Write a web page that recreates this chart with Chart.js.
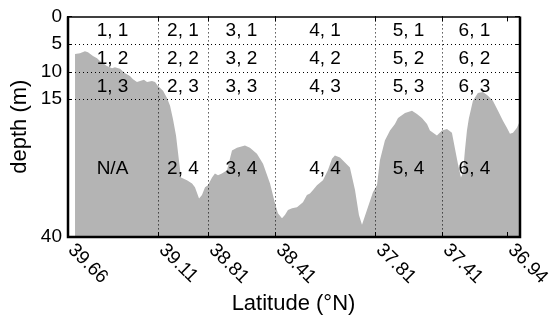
<!DOCTYPE html>
<html>
<head>
<meta charset="utf-8">
<script src="https://cdn.jsdelivr.net/npm/chart.js@4.4.0/dist/chart.umd.min.js"></script>
<style>
  html, body { margin: 0; padding: 0; background: #fff; }
  #wrap { width: 556px; height: 320px; }
</style>
</head>
<body>
<div id="wrap"><canvas id="chart"></canvas></div>
<script>
// Latitude tick labels and where they sit along the section (km)
var latLabels = ['39.66', '39.11', '38.81', '38.41', '37.81', '37.41', '36.94'];
var latPosKm = [0, 62.4, 96.7, 142.7, 211.3, 257.3, 301.8];
var sectionEndKm = 310.8;

// Depth ticks (m)
var depthTicks = [0, 5, 10, 15, 40];

// Bottom profile along the section
var distKm = [5.5, 8.9, 12.3, 14.4, 17.8, 20.6, 22.6, 27.4, 30.9, 32.9,
  36.4, 39.8, 43.2, 45.3, 48.0, 50.1, 52.8, 54.9, 58.3, 60.4,
  62.4, 65.9, 68.6, 70.7, 72.7, 74.8, 76.8, 78.2, 82.3, 85.8,
  87.8, 90.6, 92.6, 94.7, 96.7, 99.5, 101.5, 103.6, 106.3, 109.8,
  113.2, 116.6, 122.1, 125.5, 130.3, 134.5, 139.3, 142.7, 144.7, 147.5,
  149.5, 151.6, 154.4, 157.8, 161.9, 164.6, 166.7, 168.8, 171.5, 175.6,
  179.0, 181.8, 183.8, 187.3, 190.7, 194.1, 197.6, 200.3, 202.4, 205.8,
  209.9, 212.7, 214.7, 218.1, 221.6, 225.0, 227.1, 231.9, 236.7, 240.1,
  243.5, 247.0, 249.0, 253.8, 257.3, 260.7, 264.1, 266.2, 268.2, 270.3,
  271.7, 273.0, 274.4, 275.7, 278.5, 281.9, 285.4, 288.8, 292.2, 295.7,
  299.1, 301.8, 303.9, 306.0, 308.7, 310.8];
var depthM = [6.8, 6.7, 6.3, 6.5, 7.2, 7.6, 8.1, 9.0, 9.4, 9.2,
  9.5, 10.3, 10.8, 11.4, 11.9, 11.7, 11.5, 11.9, 11.7, 11.9,
  12.6, 13.5, 14.8, 16.2, 18.6, 21.6, 26.1, 29.2, 29.7, 30.3,
  31.0, 33.0, 32.4, 31.0, 30.6, 29.2, 28.5, 28.8, 28.5, 27.9,
  24.3, 23.8, 23.4, 23.8, 24.9, 26.7, 30.3, 33.9, 35.7, 36.6,
  36.0, 35.1, 34.8, 34.6, 33.7, 32.4, 32.1, 31.5, 30.6, 29.7,
  27.9, 25.8, 25.2, 25.6, 26.5, 27.4, 31.5, 36.0, 37.8, 35.1,
  31.9, 30.6, 26.1, 22.5, 20.7, 19.5, 18.4, 17.5, 17.1, 17.7,
  18.4, 19.5, 20.7, 21.6, 20.7, 20.4, 21.1, 24.0, 26.7, 29.2,
  28.3, 24.3, 20.7, 18.5, 15.3, 13.9, 13.7, 14.4, 15.3, 17.1,
  18.9, 20.2, 21.3, 21.1, 20.2, 18.9];

// Box labels: one row per depth band, one column per latitude interval
var rowDepths = [2.5, 7.5, 12.5, 27.5];
var boxLabels = [
  ['1, 1', '2, 1', '3, 1', '4, 1', '5, 1', '6, 1'],
  ['1, 2', '2, 2', '3, 2', '4, 2', '5, 2', '6, 2'],
  ['1, 3', '2, 3', '3, 3', '4, 3', '5, 3', '6, 3'],
  ['N/A', '2, 4', '3, 4', '4, 4', '5, 4', '6, 4']
];

var FONT = '"Liberation Sans", Arial, Helvetica, sans-serif';

var profile = [];
for (var i = 0; i < distKm.length; i++) {
  profile.push({ x: distKm[i], y: depthM[i] });
}

// Grid, frame, box labels and slanted latitude labels on top of the fill
var overlay = {
  id: 'overlay',
  afterDatasetsDraw: function(chart) {
    var ctx = chart.ctx;
    var a = chart.chartArea;
    var xs = chart.scales.x, ys = chart.scales.y;
    ctx.save();

    // dotted grid
    ctx.strokeStyle = '#000';
    ctx.lineWidth = 1;
    ctx.setLineDash([1, 3]);
    depthTicks.forEach(function(d) {
      if (d <= ys.min || d >= ys.max) return;
      var y = Math.round(ys.getPixelForValue(d)) + 0.5;
      ctx.beginPath(); ctx.moveTo(a.left, y); ctx.lineTo(a.right, y); ctx.stroke();
    });
    latPosKm.forEach(function(p, i) {
      if (i === 0 || i === latPosKm.length - 1) return;
      var x = Math.round(xs.getPixelForValue(p)) + 0.5;
      ctx.beginPath(); ctx.moveTo(x, a.top); ctx.lineTo(x, a.bottom); ctx.stroke();
    });
    ctx.setLineDash([]);

    // inward tick marks
    var tl = 5;
    ctx.beginPath();
    depthTicks.forEach(function(d) {
      var y = Math.round(ys.getPixelForValue(d)) + 0.5;
      ctx.moveTo(a.left, y); ctx.lineTo(a.left + tl, y);
      ctx.moveTo(a.right, y); ctx.lineTo(a.right - tl, y);
    });
    latPosKm.forEach(function(p) {
      var x = Math.round(xs.getPixelForValue(p)) + 0.5;
      ctx.moveTo(x, a.bottom); ctx.lineTo(x, a.bottom - tl);
      ctx.moveTo(x, a.top); ctx.lineTo(x, a.top + tl);
    });
    ctx.stroke();

    // frame
    ctx.lineWidth = 1.5;
    ctx.beginPath(); ctx.moveTo(a.left, a.top + 0.5); ctx.lineTo(a.right, a.top + 0.5); ctx.stroke();
    ctx.lineWidth = 2.5;
    ctx.beginPath();
    ctx.moveTo(a.left + 1, a.top);
    ctx.lineTo(a.left + 1, a.bottom);
    ctx.lineTo(a.right, a.bottom);
    ctx.lineTo(a.right, a.top);
    ctx.stroke();

    // box labels, centred in each interval
    ctx.fillStyle = '#000';
    ctx.font = '19px ' + FONT;
    ctx.textAlign = 'center';
    ctx.textBaseline = 'middle';
    boxLabels.forEach(function(row, r) {
      var y = ys.getPixelForValue(rowDepths[r]) + 1;
      row.forEach(function(txt, c) {
        var mid = (latPosKm[c] + latPosKm[c + 1]) / 2;
        ctx.fillText(txt, xs.getPixelForValue(mid), y);
      });
    });

    // slanted latitude labels
    ctx.font = '19px ' + FONT;
    ctx.textAlign = 'left';
    ctx.textBaseline = 'middle';
    latPosKm.forEach(function(p, i) {
      var x = xs.getPixelForValue(p);
      ctx.save();
      ctx.translate(x + 4, a.bottom + 10);
      ctx.rotate(Math.PI / 4);
      ctx.fillText(latLabels[i], 0, 0);
      ctx.restore();
    });

    ctx.restore();
  }
};

var ctx = document.getElementById('chart').getContext('2d');
var chart = new Chart(ctx, {
  type: 'line',
  data: {
    datasets: [{
      label: 'Bottom',
      data: profile,
      borderWidth: 0,
      pointRadius: 0,
      backgroundColor: '#b4b4b4',
      fill: { value: 40 },
      tension: 0
    }]
  },
  options: {
    responsive: true,
    maintainAspectRatio: false,
    animation: false,
    layout: { padding: { top: 15, right: 36, left: 0, bottom: 0 } },
    plugins: {
      legend: { display: false },
      tooltip: { enabled: false }
    },
    scales: {
      x: {
        type: 'linear',
        min: 0,
        max: sectionEndKm,
        grid: { display: false, drawTicks: false },
        border: { display: false },
        ticks: { display: false },
        title: {
          display: true,
          text: 'Latitude (°N)',
          color: '#000',
          font: { family: FONT, size: 22 },
          padding: { top: 0, bottom: 3 }
        },
        afterFit: function(s) { s.height = 83; }
      },
      y: {
        type: 'linear',
        min: 0,
        max: 40,
        reverse: true,
        afterBuildTicks: function(s) {
          s.ticks = depthTicks.map(function(v) { return { value: v }; });
        },
        grid: { display: false, drawTicks: false },
        border: { display: false },
        ticks: {
          color: '#000',
          padding: 5,
          font: { family: FONT, size: 19 }
        },
        title: {
          display: true,
          text: 'depth (m)',
          color: '#000',
          font: { family: FONT, size: 22 },
          padding: { top: 7, bottom: 0 }
        },
        afterFit: function(s) { s.width = 67; }
      }
    }
  },
  plugins: [overlay]
});
</script>
</body>
</html>
